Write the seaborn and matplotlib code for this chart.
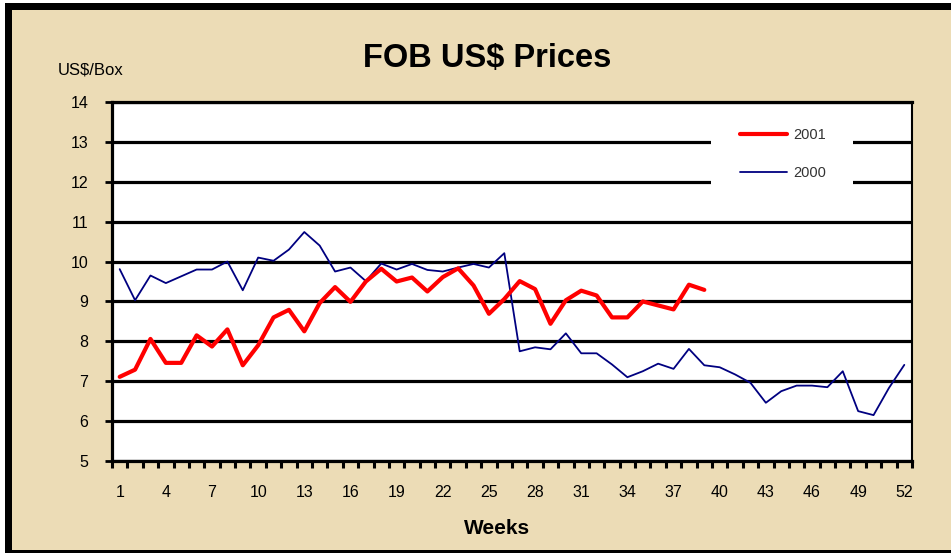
import numpy as np
import pandas as pd
import seaborn as sns
import matplotlib.pyplot as plt
from matplotlib.patches import Rectangle

# Weekly FOB prices (US$/box)
weeks_2000 = list(range(1, 53))
price_2000 = [9.81, 9.03, 9.65, 9.46, 9.63, 9.8, 9.8, 10.0, 9.28, 10.1,
              10.02, 10.3, 10.74, 10.4, 9.75, 9.85, 9.51, 9.95, 9.8, 9.94,
              9.79, 9.75, 9.85, 9.94, 9.85, 10.21, 7.75, 7.85, 7.8, 8.2,
              7.7, 7.7, 7.42, 7.1, 7.25, 7.44, 7.31, 7.81, 7.4, 7.35,
              7.17, 6.96, 6.46, 6.75, 6.89, 6.89, 6.85, 7.25, 6.25, 6.15,
              6.83, 7.41]
weeks_2001 = list(range(1, 40))
price_2001 = [7.11, 7.29, 8.06, 7.46, 7.46, 8.15, 7.87, 8.3, 7.4, 7.9,
              8.6, 8.79, 8.25, 8.96, 9.36, 8.99, 9.5, 9.82, 9.5, 9.6,
              9.25, 9.61, 9.83, 9.4, 8.69, 9.06, 9.51, 9.31, 8.44, 9.03,
              9.27, 9.15, 8.6, 8.6, 9.0, 8.9, 8.8, 9.42, 9.29]
week_labels = list(range(1, 53, 3))
price_ticks = list(range(5, 15))

df01 = pd.DataFrame({"week": weeks_2001, "price": price_2001})
df00 = pd.DataFrame({"week": weeks_2000, "price": price_2000})

sns.set_style("white")
plt.rcParams["font.family"] = ["Liberation Sans", "DejaVu Sans"]
plt.rcParams["text.color"] = "black"
plt.rcParams["xtick.color"] = "black"
plt.rcParams["ytick.color"] = "black"

W, H = 951, 553
fig = plt.figure(figsize=(W / 100, H / 100), dpi=100, facecolor="#ecdcb6")


def frect(x0, y0, x1, y1, color):
    # rectangle given in image pixels (origin top-left)
    fig.add_artist(Rectangle((x0 / W, 1 - y1 / H), (x1 - x0) / W, (y1 - y0) / H,
                             transform=fig.transFigure, color=color, lw=0, zorder=-1))


# outer white margin and black slide frame
frect(0, 0, 5, H, "white")
frect(0, 0, W, 3, "white")
frect(5, 3, 12, H, "black")
frect(5, 3, W, 10, "black")
frect(5, 550, W, H, "black")

ax = fig.add_axes([112 / W, 1 - 461 / H, 800 / W, 359 / H])
ax.set_facecolor("white")

sns.lineplot(data=df01, x="week", y="price", color="#ff0000", lw=3,
             label="2001", ax=ax, zorder=4)
sns.lineplot(data=df00, x="week", y="price", color="#000080", lw=1.3,
             label="2000", ax=ax, zorder=3)

ax.set_xlim(0.5, 52.5)
ax.set_ylim(5, 14)
ax.set_yticks(price_ticks)
ax.set_xticks(week_labels)
ax.set_xticks(np.arange(0.5, 53, 1), minor=True)
ax.set_xlabel("")
ax.set_ylabel("")

ax.set_axisbelow(True)
ax.grid(axis="y", color="black", lw=2.3)
ax.grid(axis="x", visible=False)
for side in ["left", "bottom", "top"]:
    ax.spines[side].set_color("black")
    ax.spines[side].set_linewidth(2.3)
ax.spines["right"].set_color("black")
ax.spines["right"].set_linewidth(1.5)

ax.tick_params(axis="y", direction="out", length=5, width=2, pad=12,
               labelsize=11.5, colors="black", left=True)
ax.tick_params(axis="x", which="major", length=0, pad=17, labelsize=11.5,
               colors="black")
ax.tick_params(axis="x", which="minor", direction="out", length=5, width=2.2,
               bottom=True, colors="black")

# white patch behind the legend hides the gridlines there
ax.add_patch(Rectangle((0.749, 0.727), 0.1775, 0.251, transform=ax.transAxes,
                       facecolor="white", lw=0, zorder=1))
leg = ax.legend(loc="upper left", bbox_to_anchor=(0.785, 0.928), frameon=False,
                borderpad=0, borderaxespad=0, handlelength=3.2, handletextpad=0.45,
                labelspacing=1.66, fontsize=10.5)
for t in leg.get_texts():
    t.set_color("#333333")

fig.text(487 / W, 1 - 58 / H, "FOB US$ Prices", ha="center", va="center",
         fontsize=23.5, fontweight="bold", color="black")
fig.text(58 / W, 1 - 70 / H, "US$/Box", ha="left", va="center", fontsize=12,
         color="black")
fig.text(497 / W, 1 - 528 / H, "Weeks", ha="center", va="center",
         fontsize=15, fontweight="bold", color="black")

fig.savefig("out.png", dpi=100, facecolor=fig.get_facecolor())
